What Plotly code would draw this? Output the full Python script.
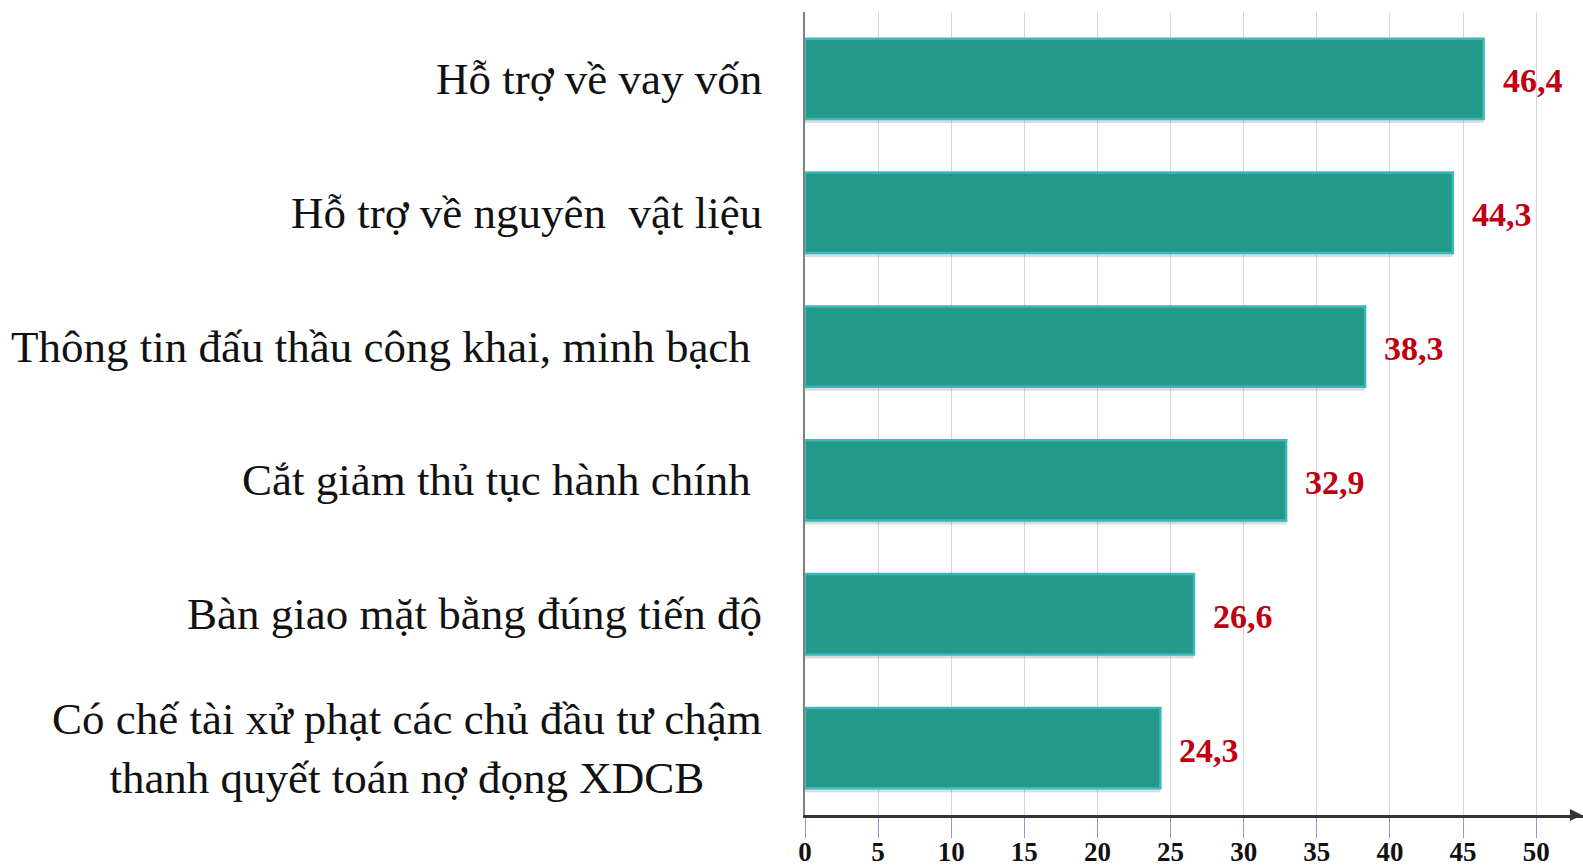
import plotly.graph_objects as go

# categories, bottom to top as plotly draws them
categories = [
    "Có chế tài xử phạt các chủ đầu tư chậm<br>thanh quyết toán nợ đọng XDCB",
    "Bàn giao mặt bằng đúng tiến độ",
    "Cắt giảm thủ tục hành chính\u00a0",
    "Thông tin đấu thầu công khai, minh bạch\u00a0",
    "Hỗ trợ về nguyên\u00a0 vật liệu",
    "Hỗ trợ về vay vốn",
]
values = [24.3, 26.6, 32.9, 38.3, 44.3, 46.4]
value_labels = ["24,3", "26,6", "32,9", "38,3", "44,3", "46,4"]
tick_vals = [0, 5, 10, 15, 20, 25, 30, 35, 40, 45, 50]

SERIF = "Liberation Serif"

fig = go.Figure()

# soft shadow under each bar
fig.add_trace(go.Bar(
    x=values, y=list(range(len(values))), orientation="h",
    width=0.6, offset=-0.33,
    marker=dict(color="rgba(120,110,140,0.25)", line=dict(width=0)),
    hoverinfo="skip", showlegend=False,
))
fig.add_trace(go.Bar(
    x=values, y=list(range(len(values))), orientation="h",
    width=0.6, offset=-0.3,
    marker=dict(color="#23998A", line=dict(color="#3CB8BA", width=2.5)),
    showlegend=False,
))

# category labels, right aligned left of the axis, multi-line centred
for i, lab in enumerate(categories):
    fig.add_annotation(
        x=0, y=i, xref="x", yref="y", text=lab, showarrow=False,
        xanchor="right", yanchor="middle", align="center", xshift=-41,
        font=dict(family=SERIF, size=45, color="#111111"),
    )

# value labels
for i, (v, t) in enumerate(zip(values, value_labels)):
    fig.add_annotation(
        x=v, y=i, xref="x", yref="y", text="<b>%s</b>" % t, showarrow=False,
        xanchor="left", yanchor="middle", xshift=17, yshift=-2,
        font=dict(family=SERIF, size=34, color="#C00010"),
    )

# arrow at the end of the x axis
fig.add_annotation(
    x=1.0, y=0, xref="paper", yref="paper", ax=-12, ay=0,
    axref="pixel", ayref="pixel", text="", showarrow=True,
    arrowhead=2, arrowsize=1.2, arrowwidth=2, arrowcolor="#333333",
)

fig.update_layout(
    width=1583, height=868,
    margin=dict(l=805, r=0, t=12, b=53),
    paper_bgcolor="white", plot_bgcolor="white",
    bargap=0.4,
    xaxis=dict(
        range=[0, 53.2], tickvals=tick_vals, automargin=False,
        showgrid=True, gridcolor="#D6D6D6", gridwidth=1,
        zeroline=False,
        showline=True, linecolor="#333333", linewidth=2.5,
        ticks="outside", ticklen=20, tickcolor="#8C9BCF", tickwidth=1,
        tickfont=dict(family=SERIF, size=27, color="#111111", weight="bold"),
        ticklabelstandoff=-9,
    ),
    yaxis=dict(
        range=[-0.5, 5.5], showticklabels=False, automargin=False,
        showgrid=False, zeroline=False,
        showline=True, linecolor="#808080", linewidth=1.5,
    ),
)

fig.write_html("out.html", config={"displayModeBar": False},
               post_script="document.body.style.margin='0px';")
